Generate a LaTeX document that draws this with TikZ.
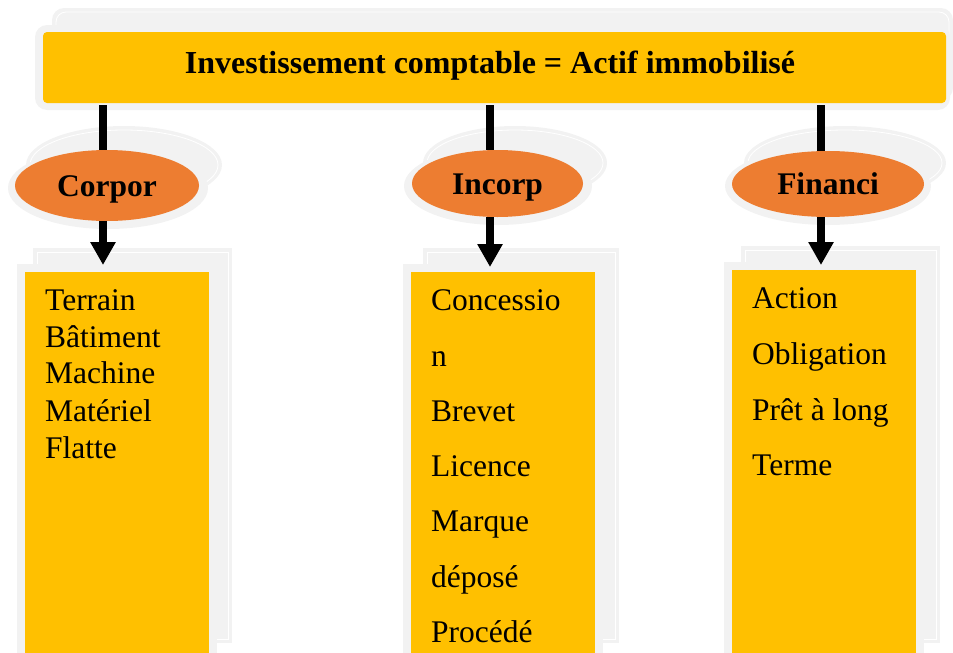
\documentclass[tikz,border=0pt]{standalone}
\usepackage{fontspec}
\setmainfont{Liberation Serif}
\usetikzlibrary{shapes.geometric,arrows.meta}
\definecolor{gold}{HTML}{FFC000}
\definecolor{orng}{HTML}{ED7D31}
\definecolor{shade}{HTML}{F2F2F2}
\begin{document}
\begin{tikzpicture}[x=1pt,y=-1pt,
  shadowfill/.style={fill=shade, draw=none},
  rim/.style={draw=white, line width=0.8pt},
  conn/.style={line width=8pt, black},
  arr/.style={line width=8pt, black, -{Triangle[width=24pt,length=23pt]}},
  oval/.style={ellipse, fill=orng, inner sep=0pt, font=\fontsize{31.5}{37}\selectfont\bfseries, text height=21pt, text depth=0pt},
  panel/.style={fill=gold, inner sep=0pt, anchor=north west, minimum width=184pt},
  item/.style={font=\fontsize{31.5}{37}\selectfont, anchor=base west, inner sep=0pt}]
\useasboundingbox (0,0) rectangle (953,653);

% top bar shadow
\fill[shadowfill, rounded corners=12pt] (52,8) rectangle (953,100);
\draw[rim, rounded corners=10pt] (56,12) rectangle (949,96);
\fill[shadowfill, rounded corners=12pt] (35,25) rectangle (950,110);
\node[fill=gold, rounded corners=4pt, minimum width=903pt, minimum height=71pt, inner sep=0pt] (bar) at (494.5,67.5) {};
\node[font=\fontsize{32}{37}\selectfont\bfseries, anchor=base, inner sep=0pt] (title) at (490,73) {Investissement comptable = Actif immobilisé};

% ellipse shadows
\fill[shadowfill] (124,165) ellipse [x radius=98pt, y radius=39pt];
\draw[rim] (124,165) ellipse [x radius=94pt, y radius=35pt];
\fill[shadowfill] (108,188) ellipse [x radius=100pt, y radius=41pt];
\fill[shadowfill] (515,163) ellipse [x radius=92pt, y radius=37pt];
\draw[rim] (515,163) ellipse [x radius=88pt, y radius=33pt];
\fill[shadowfill] (498,186) ellipse [x radius=94pt, y radius=39pt];
\fill[shadowfill] (845,163) ellipse [x radius=101pt, y radius=37pt];
\draw[rim] (845,163) ellipse [x radius=97pt, y radius=33pt];
\fill[shadowfill] (828,186) ellipse [x radius=103pt, y radius=39pt];

% ellipses
\node[oval, minimum width=184pt, minimum height=71pt] (corp) at (107,185.5) {Corpor};
\node[oval, minimum width=171pt, minimum height=67pt] (incorp) at (497.5,183.5) {Incorp};
\node[oval, minimum width=192pt, minimum height=66pt] (fin) at (828,184) {Financi};

% box shadows
\fill[shadowfill] (33,248) rectangle (232,643);
\draw[rim] (37,252) rectangle (228,639);
\fill[shadowfill] (17,264) rectangle (217,653);
\fill[shadowfill] (423,248) rectangle (619,643);
\draw[rim] (427,252) rectangle (615,639);
\fill[shadowfill] (403,264) rectangle (603,653);
\fill[shadowfill] (741,246) rectangle (940,643);
\draw[rim] (745,250) rectangle (936,639);
\fill[shadowfill] (724,262) rectangle (924,653);

% boxes
\node[panel, minimum height=381pt] (b1) at (25,272) {};
\node[panel, minimum height=381pt] (b2) at (411,272) {};
\node[panel, minimum height=383pt] (b3) at (732,270) {};

% connectors
\coordinate (k1) at (103,0);
\coordinate (k2) at (490,0);
\coordinate (k3) at (821,0);
\coordinate (tip1) at (103,265);
\coordinate (tip2) at (490,267);
\coordinate (tip3) at (821,265);
\draw[conn] ([yshift=-2pt]bar.south -| k1) -- (k1 |- corp.north);
\draw[conn] ([yshift=-2pt]bar.south -| k2) -- (k2 |- incorp.north);
\draw[conn] ([yshift=-2pt]bar.south -| k3) -- (k3 |- fin.north);
\draw[arr] (k1 |- corp.south) -- (tip1);
\draw[arr] (k2 |- incorp.south) -- (tip2);
\draw[arr] (k3 |- fin.south) -- (tip3);

% left items
\node[item] (l1) at (45,310) {Terrain};
\node[item] (l2) at (45,347) {Bâtiment};
\node[item] (l3) at (45,383) {Machine};
\node[item] (l4) at (45,421) {Matériel};
\node[item] (l5) at (45,458) {Flatte};
% middle items
\node[item] (m1) at (431,310) {Concessio};
\node[item] (m2) at (431,366) {n};
\node[item] (m3) at (431,421) {Brevet};
\node[item] (m4) at (431,476) {Licence};
\node[item] (m5) at (431,531) {Marque};
\node[item] (m6) at (431,587) {déposé};
\node[item] (m7) at (431,642) {Procédé};
% right items
\node[item] (r1) at (752,308) {Action};
\node[item] (r2) at (752,364) {Obligation};
\node[item] (r3) at (752,420) {Prêt à long};
\node[item] (r4) at (752,475) {Terme};
\end{tikzpicture}
\end{document}
